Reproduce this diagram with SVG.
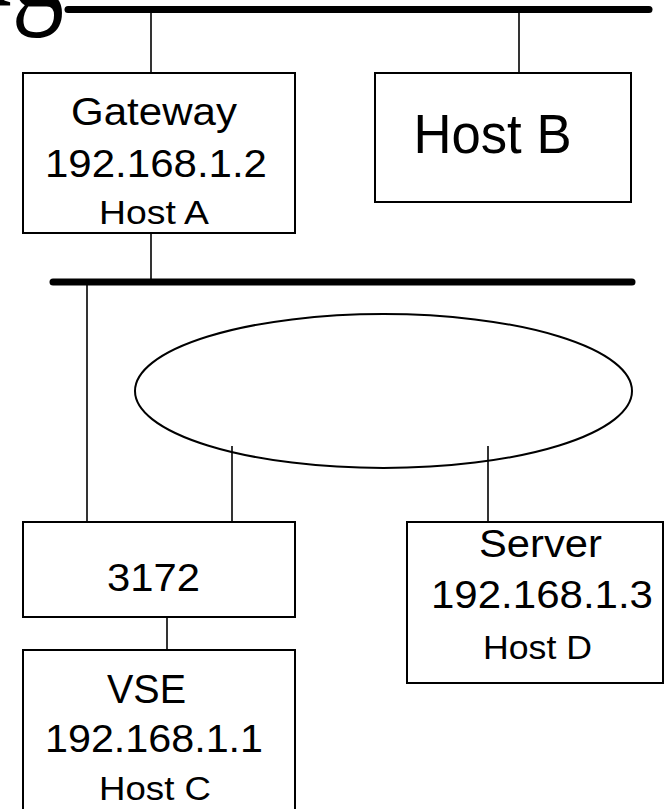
<svg xmlns="http://www.w3.org/2000/svg" width="667" height="809" viewBox="0 0 667 809">
  <style>
    .box { fill: #ffffff; stroke: #000000; stroke-width: 2; }
    .wire { stroke: #000000; stroke-width: 1.6; fill: none; }
    .bus { stroke: #000000; stroke-width: 7; stroke-linecap: round; fill: none; }
    .ring { fill: #ffffff; stroke: #000000; stroke-width: 2; }
    text { font-family: "Liberation Sans", Arial, sans-serif; fill: #000000; text-anchor: middle; }
    .title { font-family: "Liberation Serif", "Times New Roman", serif; text-anchor: end; }
  </style>
  <rect width="667" height="809" fill="#ffffff"/>

  <!-- title, mostly above the top edge -->
  <text class="title" transform="translate(64,6) scale(0.95,1.35)" x="0" y="0" font-size="110">ng</text>

  <!-- buses, ring and links -->
  <g id="connectors">
    <line class="bus" x1="68" y1="9.5" x2="649" y2="9.5"/>
    <line class="wire" x1="151" y1="10" x2="151" y2="73"/>
    <line class="wire" x1="519" y1="10" x2="519" y2="73"/>
    <line class="wire" x1="151" y1="233" x2="151" y2="282"/>
    <line class="bus" x1="53" y1="282" x2="632" y2="282"/>
    <line class="wire" x1="87" y1="282" x2="87" y2="522"/>
    <ellipse class="ring" cx="383.5" cy="391" rx="248.5" ry="77"/>
    <line class="wire" x1="232" y1="446" x2="232" y2="522"/>
    <line class="wire" x1="488" y1="446" x2="488" y2="522"/>
    <line class="wire" x1="167" y1="617" x2="167" y2="650"/>
  </g>

  <g id="gateway">
    <rect class="box" x="23" y="73" width="272" height="160"/>
    <text x="154" y="125" font-size="38" textLength="166" lengthAdjust="spacingAndGlyphs">Gateway</text>
    <text x="156" y="177" font-size="38" textLength="222" lengthAdjust="spacingAndGlyphs">192.168.1.2</text>
    <text x="154" y="224" font-size="34" textLength="110" lengthAdjust="spacingAndGlyphs">Host A</text>
  </g>

  <g id="host-b">
    <rect class="box" x="375" y="73" width="256" height="129"/>
    <text x="492.5" y="153" font-size="55" textLength="158" lengthAdjust="spacingAndGlyphs">Host B</text>
  </g>

  <g id="controller-3172">
    <rect class="box" x="23" y="522" width="272" height="95"/>
    <text x="153.5" y="591" font-size="38" textLength="93" lengthAdjust="spacingAndGlyphs">3172</text>
  </g>

  <g id="vse">
    <rect class="box" x="23" y="650" width="272" height="170"/>
    <text x="146.5" y="703" font-size="40" textLength="79" lengthAdjust="spacingAndGlyphs">VSE</text>
    <text x="154" y="752" font-size="38" textLength="218" lengthAdjust="spacingAndGlyphs">192.168.1.1</text>
    <text x="155" y="800" font-size="33" textLength="112" lengthAdjust="spacingAndGlyphs">Host C</text>
  </g>

  <g id="server">
    <rect class="box" x="407" y="522" width="256" height="161"/>
    <text x="540.5" y="557" font-size="39" textLength="123" lengthAdjust="spacingAndGlyphs">Server</text>
    <text x="542" y="608" font-size="38" textLength="222" lengthAdjust="spacingAndGlyphs">192.168.1.3</text>
    <text x="537.5" y="659" font-size="34" textLength="109" lengthAdjust="spacingAndGlyphs">Host D</text>
  </g>
</svg>
